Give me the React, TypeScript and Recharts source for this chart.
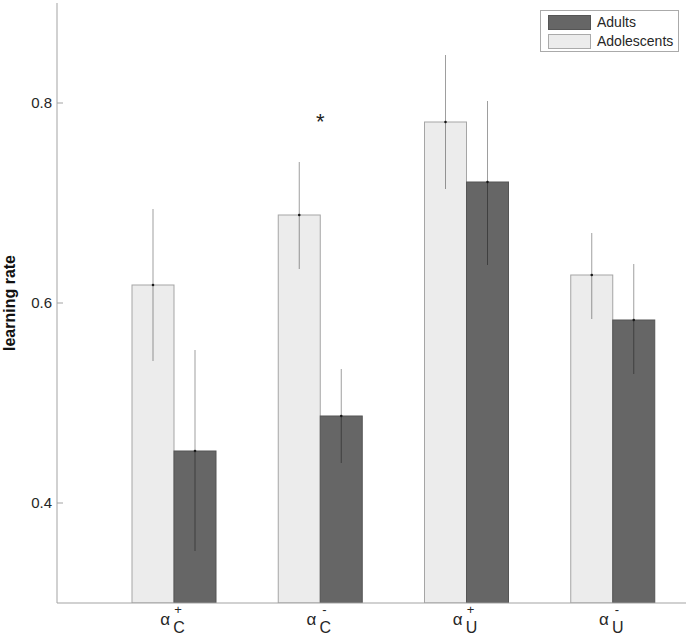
import { BarChart, Bar, XAxis, YAxis, ErrorBar, ReferenceDot, Legend, Label } from "recharts";

/* learning rates per parameter */
const SUBS = ["C", "C", "U", "U"];
const SIGNS = ["+", "-", "+", "-"];

const ADOLESCENTS = [0.618, 0.688, 0.781, 0.628];
const ADOLESCENTS_LO = [0.542, 0.634, 0.714, 0.584];
const ADOLESCENTS_HI = [0.694, 0.741, 0.848, 0.67];

const ADULTS = [0.452, 0.487, 0.721, 0.583];
const ADULTS_LO = [0.352, 0.44, 0.638, 0.529];
const ADULTS_HI = [0.553, 0.534, 0.802, 0.639];

const Y_TICKS = [0.4, 0.6, 0.8];
const STAR_AT = { index: 1, value: 0.785 };

const FONT = '"Liberation Sans", Arial, Helvetica, sans-serif';
const AXIS = "#a3a3a3";
const INK = "#262626";

const data = SUBS.map((sub, i) => ({
  key: `${sub}${SIGNS[i]}`,
  sub,
  sign: SIGNS[i],
  adolescents: ADOLESCENTS[i],
  adolescentsErr: [ADOLESCENTS[i] - ADOLESCENTS_LO[i], ADOLESCENTS_HI[i] - ADOLESCENTS[i]],
  adults: ADULTS[i],
  adultsErr: [ADULTS[i] - ADULTS_LO[i], ADULTS_HI[i] - ADULTS[i]],
}));

function BarWithMean(props: any) {
  const { x, y, width, height, fill, stroke } = props;
  return (
    <g>
      <rect x={x} y={y} width={width} height={height} fill={fill} stroke={stroke} strokeWidth={1} />
      <circle cx={x + width / 2} cy={y} r={1.3} fill="#222" />
    </g>
  );
}

function AlphaTick(props: any) {
  const { x, y, index } = props;
  const d = data[index];
  if (!d) return null;
  return (
    <g fontFamily={FONT} fill={INK}>
      <text x={x - 4} y={y + 22} textAnchor="end" fontSize={17}>α</text>
      <text x={x + 4} y={y + 11} textAnchor="middle" fontSize={13}>{d.sign}</text>
      <text x={x - 1} y={y + 30} textAnchor="start" fontSize={16}>{d.sub}</text>
    </g>
  );
}

function YTick(props: any) {
  const { x, y, payload } = props;
  return (
    <g>
      <line x1={x} x2={x + 6} y1={y} y2={y} stroke={AXIS} />
      <text x={x - 5} y={y} dy="0.35em" textAnchor="end" fontSize={15} fontFamily={FONT} fill={INK}>
        {payload.value.toFixed(1)}
      </text>
    </g>
  );
}

function YLabel(props: any) {
  const vb = props.viewBox || {};
  const cy = (vb.y ?? 3) + (vb.height ?? 600) / 2;
  return (
    <text
      x={15}
      y={cy}
      transform={`rotate(-90, 15, ${cy})`}
      textAnchor="middle"
      fontFamily={FONT}
      fontSize={16}
      fontWeight="bold"
      fill="#111"
    >
      learning rate
    </text>
  );
}

function LegendBox() {
  const items = [
    { label: "Adults", fill: "#666666", stroke: "#555555" },
    { label: "Adolescents", fill: "#ececec", stroke: "#aaaaaa" },
  ];
  return (
    <div
      style={{
        border: "1px solid #aaa",
        background: "#fff",
        width: 137,
        height: 40,
        boxSizing: "content-box",
        fontFamily: FONT,
        fontSize: 14,
        color: INK,
        position: "relative",
      }}
    >
      {items.map((it, i) => (
        <div key={it.label} style={{ position: "absolute", left: 7, top: 4 + i * 19, height: 15, display: "flex", alignItems: "center" }}>
          <div style={{ width: 41, height: 13, background: it.fill, border: `1px solid ${it.stroke}` }} />
          <span style={{ marginLeft: 6, lineHeight: "15px" }}>{it.label}</span>
        </div>
      ))}
    </div>
  );
}

export default function App() {
  return (
    <div style={{ width: 689, height: 636, background: "#fff", position: "relative" }}>
      <style>{"body{margin:0;}"}</style>
      <BarChart
        width={689}
        height={636}
        data={data}
        margin={{ top: 3, right: 3, left: 0, bottom: 0 }}
        barSize={42}
        barGap={0}
      >
        <XAxis
          dataKey="key"
          height={33}
          padding={{ left: 44, right: 0 }}
          stroke={AXIS}
          tickLine={false}
          tickSize={0}
          tickMargin={0}
          tick={<AlphaTick />}
          interval={0}
        />
        <YAxis
          width={57}
          domain={[0.3, 0.9]}
          ticks={Y_TICKS}
          allowDataOverflow
          stroke={AXIS}
          tickLine={false}
          tickSize={0}
          tickMargin={0}
          tick={<YTick />}
        >
          <Label content={<YLabel />} />
        </YAxis>
        <Bar dataKey="adolescents" fill="#ececec" stroke="#a5a5a5" shape={<BarWithMean />} isAnimationActive={false}>
          <ErrorBar dataKey="adolescentsErr" width={0} stroke="rgba(0,0,0,0.38)" strokeWidth={1} direction="y" />
        </Bar>
        <Bar dataKey="adults" fill="#666666" stroke="#555555" shape={<BarWithMean />} isAnimationActive={false}>
          <ErrorBar dataKey="adultsErr" width={0} stroke="rgba(0,0,0,0.38)" strokeWidth={1} direction="y" />
        </Bar>
        <ReferenceDot
          x={data[STAR_AT.index].key}
          y={STAR_AT.value}
          r={0}
          shape={(p: any) => (
            <text x={p.cx} y={p.cy + 11} textAnchor="middle" fontSize={22} fontFamily={FONT} fill="#222">
              *
            </text>
          )}
        />
        <Legend
          layout="horizontal"
          verticalAlign="middle"
          align="center"
          content={<LegendBox />}
          wrapperStyle={{ position: "absolute", left: 540, top: 10, width: 139, height: 42 }}
        />
      </BarChart>
    </div>
  );
}
